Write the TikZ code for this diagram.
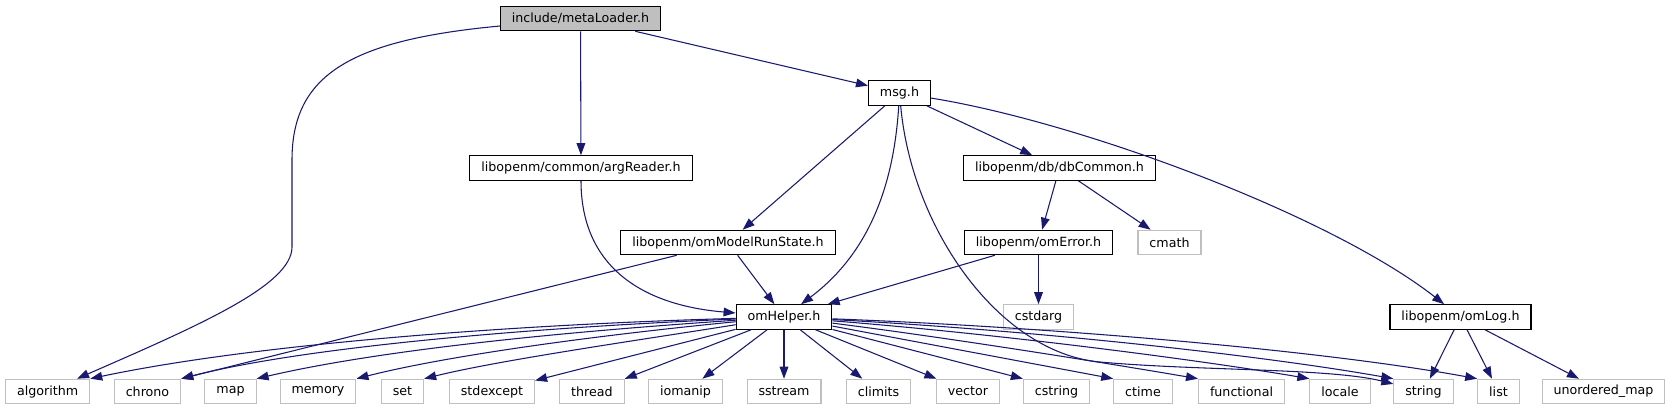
\documentclass[tikz,border=0pt]{standalone}
\usepackage{fontspec}
\setmainfont{DejaVu Sans}
\usetikzlibrary{arrows.meta}
\definecolor{edge}{HTML}{191970}
\definecolor{ext}{HTML}{BFBFBF}

\begin{document}
\begin{tikzpicture}[
x=0.75pt,y=-0.75pt,
font=\fontsize{9.5}{11}\selectfont,
box/.style={draw=black,line width=0.8pt,inner xsep=8.6pt,inner ysep=0pt,minimum height=18.4pt},
sys/.style={box,draw=ext},
arr/.style={-{Triangle[length=9pt,width=6.5pt]},draw=edge,line width=0.8pt}]
\useasboundingbox (0,0) rectangle (1674,411);
\node[box,fill=ext] (ml) at (580.5,18.5) {include/metaLoader.h};
\node[box] (msg) at (899.5,93) {msg.h};
\node[box] (arg) at (581,168) {libopenm/common/argReader.h};
\node[box] (dbc) at (1059.5,168) {libopenm/db/dbCommon.h};
\node[box] (mrs) at (728,242.5) {libopenm/omModelRunState.h};
\node[box] (err) at (1038.5,242.5) {libopenm/omError.h};
\node[sys] (cmath) at (1169.5,242.5) {cmath};
\node[box] (omh) at (784,317) {omHelper.h};
\node[sys] (cstdarg) at (1038.5,317) {cstdarg};
\node[box] (log) at (1460.5,317) {libopenm/omLog.h};
\node[sys] (alg) at (47.7,391.5) {algorithm};
\node[sys] (chr) at (147.5,391.5) {chrono};
\node[sys] (map) at (230.5,391.5) {map};
\node[sys] (mem) at (318,391.5) {memory};
\node[sys] (set) at (402.5,391.5) {set};
\node[sys] (sexc) at (492,391.5) {stdexcept};
\node[sys] (thr) at (592,391.5) {thread};
\node[sys] (iom) at (685.5,391.5) {iomanip};
\node[sys] (sst) at (784,391.5) {sstream};
\node[sys] (clim) at (878.5,391.5) {climits};
\node[sys] (vec) at (968,391.5) {vector};
\node[sys] (cstr) at (1056.5,391.5) {cstring};
\node[sys] (ctime) at (1143,391.5) {ctime};
\node[sys] (func) at (1241.5,391.5) {functional};
\node[sys] (loc) at (1340,391.5) {locale};
\node[sys] (str) at (1423.5,391.5) {string};
\node[sys] (list) at (1498.5,391.5) {list};
\node[sys] (umap) at (1603.5,391.5) {unordered\_map};
\draw[arr] (ml) .. controls (350,40) and (292,75) .. (292,160) -- (292,247) .. controls (292,285) and (200,325) .. (alg);
\draw[arr] (ml) -- (arg); \draw[arr] (ml) -- (msg);
\draw[arr] (msg) -- (mrs); \draw[arr] (msg) -- (dbc);
\draw[arr] (msg) .. controls (893,200) and (860,260) .. (omh);
\draw[arr] (msg) .. controls (912,230) and (1000,353) .. (1100,362) .. controls (1200,371) and (1330,368) .. (str);
\draw[arr] (msg) .. controls (1080,122) and (1330,215) .. (log);
\draw[arr] (arg) .. controls (581,265) and (640,305) .. (omh);
\draw[arr] (mrs) -- (omh); \draw[arr] (mrs) -- (chr.north east);
\draw[arr] (dbc) -- (err); \draw[arr] (dbc) -- (cmath);
\draw[arr] (err) -- (omh); \draw[arr] (err) -- (cstdarg);
\draw[arr] (omh) .. controls (500,325) and (250,345) .. (alg.north east);
\draw[arr] (omh) .. controls (520,328) and (300,348) .. (chr.north east);
\draw[arr] (omh) .. controls (560,332) and (380,350) .. (map.north east);
\draw[arr] (omh) .. controls (600,335) and (450,355) .. (mem.north east);
\draw[arr] (omh) .. controls (640,340) and (500,360) .. (set.north east);
\draw[arr] (omh) -- (sexc); \draw[arr] (omh) -- (thr);
\draw[arr] (omh) -- (iom); \draw[arr] (omh) -- (sst);
\draw[arr] (omh) -- (clim); \draw[arr] (omh) -- (vec);
\draw[arr] (omh) -- (cstr.north west); \draw[arr] (omh) -- (ctime.north west);
\draw[arr] (omh) .. controls (950,338) and (1100,362) .. (func.north west);
\draw[arr] (omh) .. controls (1000,334) and (1200,360) .. (loc.north west);
\draw[arr] (omh) .. controls (1030,330) and (1260,355) .. (str.north west);
\draw[arr] (omh) .. controls (1050,327) and (1320,350) .. (list.north west);
\draw[arr] (log) -- (str); \draw[arr] (log) -- (list); \draw[arr] (log) -- (umap);
\end{tikzpicture}
\end{document}
